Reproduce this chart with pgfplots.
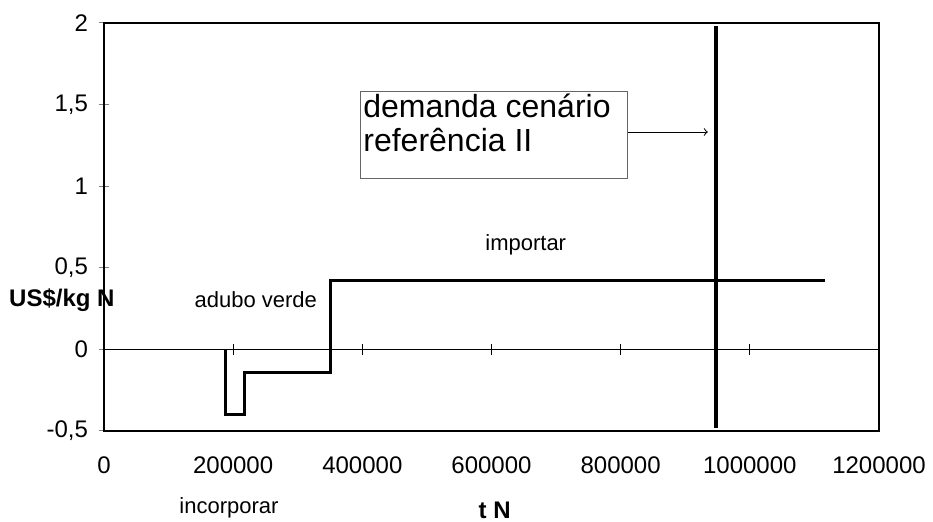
\documentclass[border=0pt]{standalone}
\usepackage{pgfplots}
\pgfplotsset{compat=1.18}
\usepackage{fontspec}
\setmainfont{Liberation Sans}

\begin{document}
\begin{tikzpicture}
% page = 933x522 px, 1 px = 0.5pt, axis box corner at px (104,431)
\path[use as bounding box] (-52pt,-45.5pt) rectangle (414.5pt,215.5pt);
\begin{axis}[
    scale only axis,
    width=387.5pt, height=204pt,
    xmin=0, xmax=1200000,
    ymin=-0.5, ymax=2,
    clip=false,
    scaled ticks=false,
    axis line style={line width=1pt},
    xtick={0,200000,400000,600000,800000,1000000,1200000},
    xticklabels={0,200000,400000,600000,800000,1000000,1200000},
    xtick pos=bottom,
    xtick style={draw=none},
    ytick={-0.5,0,0.5,1,1.5,2},
    yticklabels={{-0,5},{0},{0,5},{1},{1,5},{2}},
    ytick pos=left,
    ytick align=center,
    major tick length=5pt,
    ytick style={line width=0.5pt},
    tick label style={font=\fontsize{12}{14}\selectfont},
    xticklabel style={yshift=-9.5pt},
    yticklabel style={xshift=-2pt},
]

% zero line with its small ticks
\draw[line width=0.5pt] (axis cs:0,0) -- (axis cs:1200000,0);
\pgfplotsinvokeforeach{200000,400000,600000,800000,1000000}{
  \draw[line width=0.5pt] (axis cs:#1,-0.035) -- (axis cs:#1,0.035);
}

% supply curve (step)
\addplot[black, line width=1.5pt, line join=miter] coordinates {
    (188000,0) (188000,-0.4) (218000,-0.4) (218000,-0.14)
    (350000,-0.14) (350000,0.42) (1116000,0.42)
};

% demand, scenario reference II
\addplot[black, line width=2.2pt] coordinates {
    (948000,-0.48) (948000,1.98)
};

% annotation box
\draw[black!60, line width=0.5pt] (axis cs:397000,1.583) rectangle (axis cs:811000,1.05);
\node[anchor=base west, align=left, inner sep=0pt,
      font=\fontsize{16}{17}\selectfont]
    at (axis cs:401000,1.21) {demanda cenário\\referência II};
\draw[->, line width=0.5pt] (axis cs:811000,1.332) -- (axis cs:935000,1.332);

% labels
\node[font=\fontsize{11}{13}\selectfont] at (axis cs:653000,0.64) {importar};
\node[font=\fontsize{11}{13}\selectfont] at (axis cs:235000,0.303) {adubo verde};
\node[font=\fontsize{11}{13}\selectfont] at (axis cs:193500,-0.972) {incorporar};
\node[font=\bfseries\fontsize{12}{14}\selectfont, anchor=east, inner sep=0pt]
    at (axis cs:17000,0.30) {US\$/kg N};
\node[font=\bfseries\fontsize{12}{14}\selectfont] at (axis cs:605000,-0.984) {t N};

\end{axis}
\end{tikzpicture}
\end{document}
